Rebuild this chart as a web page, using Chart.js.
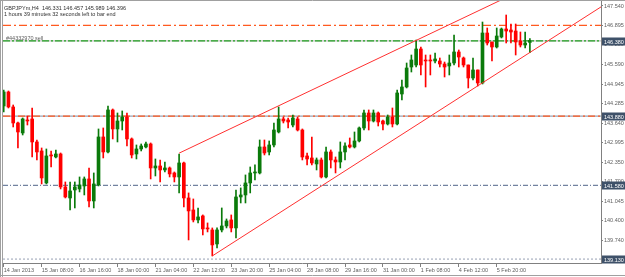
<!DOCTYPE html>
<html>
<head>
<meta charset="utf-8">
<script src="https://cdn.jsdelivr.net/npm/chart.js@4/dist/chart.umd.min.js"></script>
<style>
  html, body { margin: 0; padding: 0; background: #fff; }
  #wrap { position: relative; width: 625px; height: 277px; }
</style>
</head>
<body>
<div id="wrap"><canvas id="chart" width="625" height="277"></canvas></div>
<script>
// GBPJPYm H4 candles (bar 0 = 14 Jan 2013 00:00)
const opens = [
  144.218, 144.683, 144.185, 143.653, 143.321, 143.753, 143.786, 143.022, 142.723, 141.660,
  142.590, 142.523, 142.623, 141.527, 141.161, 141.427, 141.461, 141.560, 141.793, 141.062,
  141.593, 143.188, 142.690, 144.085, 143.454, 143.719, 143.852, 143.122, 142.623, 142.789,
  142.856, 142.955, 142.158, 142.224, 142.092, 142.158, 141.992, 141.859, 142.324, 141.161,
  140.763, 140.431, 140.564, 140.165, 140.098, 139.633, 140.098, 140.231, 140.431, 140.165,
  141.194, 141.261, 141.660, 141.992, 141.992, 142.856, 142.690, 142.922, 143.354, 143.786,
  143.753, 143.586, 143.786, 143.420, 142.557, 142.490, 142.291, 142.424, 141.859, 142.690,
  142.424, 142.357, 142.690, 142.922, 142.856, 143.055, 143.487, 143.985, 143.719, 143.985,
  143.719, 143.620, 143.852, 143.620, 144.616, 144.849, 145.513, 145.580, 146.111, 145.746,
  145.746, 145.713, 145.713, 145.613, 145.547, 145.646, 146.012, 145.812, 145.580, 145.148,
  145.414, 144.982, 146.643, 146.344, 146.178, 146.510, 146.776, 146.742, 146.709, 146.377,
  146.244, 146.331
];
const highs = [
  144.749, 144.716, 144.251, 143.686, 143.819, 143.886, 144.151, 143.088, 142.822, 142.789,
  142.723, 142.756, 142.656, 141.693, 141.693, 141.693, 141.859, 141.859, 142.158, 141.992,
  143.454, 143.487, 144.218, 144.118, 143.985, 144.052, 143.985, 143.155, 142.922, 142.955,
  143.022, 142.989, 142.457, 142.424, 142.357, 142.191, 142.025, 142.623, 142.357, 141.328,
  141.128, 140.829, 140.597, 140.331, 140.165, 140.165, 140.829, 140.464, 140.597, 141.427,
  141.494, 141.926, 142.191, 142.258, 143.088, 143.088, 143.055, 143.653, 144.185, 143.852,
  143.819, 143.919, 143.852, 143.454, 142.656, 143.188, 142.490, 142.490, 142.856, 142.756,
  142.523, 143.022, 142.989, 143.155, 143.354, 143.520, 144.085, 144.085, 144.085, 144.018,
  143.753, 143.919, 144.151, 144.749, 145.081, 145.646, 145.912, 146.410, 146.178, 145.912,
  145.912, 145.978, 145.812, 145.679, 145.912, 146.576, 146.078, 145.845, 145.580, 145.812,
  145.414, 147.008, 146.809, 146.344, 146.809, 146.809, 147.241, 146.942, 146.942, 146.676,
  146.676, 146.457
];
const lows = [
  144.018, 144.151, 143.520, 142.822, 143.254, 143.586, 142.523, 142.424, 141.627, 141.627,
  142.191, 142.490, 141.461, 141.161, 140.763, 140.829, 141.361, 141.261, 140.862, 140.829,
  141.560, 142.490, 142.656, 143.122, 143.022, 143.420, 142.889, 142.490, 142.457, 142.723,
  142.822, 141.793, 141.892, 141.693, 142.025, 141.859, 141.693, 141.328, 140.862, 139.766,
  140.364, 140.331, 139.932, 140.032, 139.235, 139.501, 140.032, 140.165, 140.032, 139.833,
  140.995, 140.995, 141.328, 141.759, 141.959, 142.590, 142.590, 142.856, 143.321, 143.653,
  143.487, 143.520, 143.387, 142.424, 142.258, 142.258, 142.092, 141.826, 141.826, 142.158,
  141.992, 142.158, 142.424, 142.822, 142.822, 143.022, 143.420, 143.420, 143.686, 143.553,
  143.420, 143.586, 143.520, 143.586, 144.417, 144.816, 145.347, 145.513, 145.248, 144.849,
  145.248, 145.646, 145.513, 145.181, 145.248, 145.580, 145.513, 145.513, 144.816, 145.081,
  144.882, 144.948, 146.244, 145.713, 146.144, 146.477, 146.311, 146.311, 145.912, 146.178,
  146.144, 145.989
];
const closes = [
  144.683, 144.185, 143.653, 143.354, 143.786, 143.719, 143.022, 142.690, 141.826, 142.557,
  142.557, 142.623, 141.527, 141.194, 141.394, 141.527, 141.593, 141.793, 141.062, 141.627,
  143.188, 142.690, 144.085, 143.454, 143.719, 143.852, 143.122, 142.590, 142.789, 142.889,
  142.955, 142.158, 142.224, 142.092, 142.158, 141.959, 141.859, 142.324, 141.161, 140.730,
  140.431, 140.530, 140.132, 140.132, 139.600, 140.098, 140.231, 140.397, 140.165, 141.194,
  141.261, 141.660, 141.992, 142.025, 142.856, 142.656, 142.922, 143.420, 143.786, 143.719,
  143.686, 143.819, 143.420, 142.523, 142.457, 142.324, 142.424, 141.859, 142.690, 142.424,
  142.357, 142.690, 142.889, 142.856, 143.055, 143.487, 143.985, 143.719, 143.985, 143.686,
  143.620, 143.852, 143.620, 144.650, 144.849, 145.480, 145.746, 146.111, 145.580, 145.713,
  145.713, 145.779, 145.613, 145.513, 145.646, 146.012, 145.845, 145.580, 145.148, 145.414,
  144.982, 146.643, 146.311, 146.178, 146.543, 146.776, 146.709, 146.676, 146.344, 146.244,
  146.311, 146.396
];

const timeLabels = ['14 Jan 2013', '15 Jan 08:00', '16 Jan 16:00', '18 Jan 00:00', '21 Jan 04:00',
  '22 Jan 12:00', '23 Jan 20:00', '25 Jan 04:00', '28 Jan 08:00', '29 Jan 16:00', '31 Jan 00:00',
  '1 Feb 08:00', '4 Feb 12:00', '5 Feb 20:00'];
const timeLabelBars = [0, 8, 16, 24, 32, 40, 48, 56, 64, 72, 80, 88, 96, 104];
const priceTicks = [147.540, 146.895, 146.250, 145.590, 144.945, 144.285, 143.640,
  142.995, 142.350, 141.700, 141.045, 140.400, 139.740];

// horizontal levels and the channel (bar index, price)
const levelPrices = [146.895, 146.380, 143.880, 141.580, 139.130];
const boxedLevels = [146.380, 143.880, 141.580, 139.130];
const upperChannel = [[37, 142.650], [112, 148.270]];
const lowerChannel = [[44, 139.235], [126, 147.510]];

const symbolName = 'GBPJPYm,H4';
const timeLeft = '1 hours 39 minutes 32 seconds left to bar end';
const orderText = '#44332970 sell';
const orderPrice = 146.380;

const UP = '#0a7a0a';
const DOWN = '#ff0000';
const FONT = '"Liberation Sans", Arial, sans-serif';

// drawn a bit soft, like the blurred lines of the screenshot
const levelLook = [
  { color: '#ff5a20', dash: [8, 3, 2, 3], width: 1.4 },
  { color: '#20a020', dash: [7, 2, 2, 2], width: 1.4, under: '#c4c4c4' },
  { color: '#ff5a20', dash: [7, 3, 2, 3], width: 1.4, under: '#98a2b4' },
  { color: '#7282a0', dash: [5, 2, 1, 2], width: 1.2 },
  { color: '#a8b0c0', dash: [2, 2], width: 1.2 }
];

const mtOverlay = {
  id: 'mtOverlay',
  beforeDraw(chart) {
    const ctx = chart.ctx;
    ctx.save();
    ctx.strokeStyle = '#a0a0a0';
    ctx.lineWidth = 1;
    ctx.beginPath();
    ctx.moveTo(0.5, 0); ctx.lineTo(0.5, 277);
    ctx.moveTo(2.5, 0); ctx.lineTo(2.5, 277);
    ctx.moveTo(0, 0.5); ctx.lineTo(625, 0.5);
    ctx.moveTo(0, 275.5); ctx.lineTo(625, 275.5);
    ctx.stroke();
    ctx.restore();
  },
  beforeDatasetsDraw(chart) {
    const ctx = chart.ctx;
    const area = chart.chartArea;
    const yScale = chart.scales.y;
    ctx.save();
    levelPrices.forEach((p, i) => {
      const look = levelLook[i];
      const y = yScale.getPixelForValue(p);
      ctx.lineWidth = look.width;
      if (look.under) {
        ctx.setLineDash([]);
        ctx.strokeStyle = look.under;
        ctx.beginPath(); ctx.moveTo(area.left, y); ctx.lineTo(area.right, y); ctx.stroke();
      }
      ctx.setLineDash(look.dash);
      ctx.strokeStyle = look.color;
      ctx.beginPath(); ctx.moveTo(area.left, y); ctx.lineTo(area.right, y); ctx.stroke();
    });
    ctx.restore();
  },
  afterDraw(chart) {
    const ctx = chart.ctx;
    const area = chart.chartArea;
    const yScale = chart.scales.y;
    const last = opens.length - 1;
    ctx.save();
    ctx.font = '5.5px ' + FONT;
    ctx.textBaseline = 'alphabetic';
    ctx.fillStyle = '#303030';
    const ohlc = [opens[last], highs[last], lows[last], closes[last]].map(v => v.toFixed(3)).join(' ');
    ctx.fillText(symbolName + '  ' + ohlc, area.left + 1, 9.5);
    ctx.fillText(timeLeft, area.left + 1, 16);
    ctx.fillStyle = '#606060';
    ctx.fillText(orderText, area.left + 3, Math.round(yScale.getPixelForValue(orderPrice)) - 1.5);

    ctx.textBaseline = 'middle';
    boxedLevels.forEach(p => {
      const y = Math.round(yScale.getPixelForValue(p)) + 0.5;
      ctx.fillStyle = '#3e5169';
      ctx.fillRect(area.right + 1, y - 4, 24, 8);
      ctx.fillStyle = '#ffffff';
      ctx.fillText(p.toFixed(3), area.right + 3, y + 0.5);
    });
    ctx.restore();
  }
};

const bodyData = opens.map((o, i) => ({ x: i, y: [o, closes[i]] }));
const wickData = lows.map((l, i) => ({ x: i, y: [l, highs[i]] }));
const candleColors = opens.map((o, i) => closes[i] > o ? UP : DOWN);

Chart.defaults.font.family = FONT;

new Chart(document.getElementById('chart'), {
  type: 'bar',
  data: {
    datasets: [
      {
        label: 'bodies',
        data: bodyData,
        backgroundColor: candleColors,
        barThickness: 3,
        minBarLength: 1,
        grouped: false,
        order: 1
      },
      {
        label: 'wicks',
        data: wickData,
        backgroundColor: candleColors,
        barThickness: 1,
        grouped: false,
        order: 2
      },
      {
        type: 'line',
        label: 'upper',
        data: upperChannel.map(p => ({ x: p[0], y: p[1] })),
        borderColor: '#ff3030',
        borderWidth: 1,
        pointRadius: 0,
        fill: false,
        order: 0
      },
      {
        type: 'line',
        label: 'lower',
        data: lowerChannel.map(p => ({ x: p[0], y: p[1] })),
        borderColor: '#ff3030',
        borderWidth: 1,
        pointRadius: 0,
        fill: false,
        order: 0
      }
    ]
  },
  options: {
    responsive: false,
    animation: false,
    events: [],
    layout: { padding: { left: 3, top: 1, right: 0, bottom: 0 } },
    plugins: { legend: { display: false }, tooltip: { enabled: false } },
    scales: {
      x: {
        type: 'linear',
        offset: false,
        min: -0.15,
        max: 126,
        afterBuildTicks: s => { s.ticks = timeLabelBars.map(v => ({ value: v })); },
        afterFit: s => { s.height = 14; s.paddingLeft = 0; s.paddingRight = 0; },
        ticks: {
          callback: v => timeLabels[timeLabelBars.indexOf(v)],
          align: 'start',
          maxRotation: 0,
          autoSkip: false,
          padding: 0,
          color: '#606060',
          font: { size: 5.5 }
        },
        grid: { offset: false, drawOnChartArea: false, tickLength: 4, color: '#808080' },
        border: { color: '#808080' }
      },
      y: {
        type: 'linear',
        position: 'right',
        min: 139.0,
        max: 147.706,
        afterBuildTicks: s => { s.ticks = priceTicks.map(v => ({ value: v })); },
        afterFit: s => { s.width = 24; s.paddingTop = 0; s.paddingBottom = 0; },
        ticks: {
          callback: v => v.toFixed(3),
          autoSkip: false,
          padding: 1,
          color: '#606060',
          font: { size: 5.5 }
        },
        grid: { drawOnChartArea: false, tickLength: 2, color: '#808080' },
        border: { color: '#808080' }
      }
    }
  },
  plugins: [mtOverlay]
});
</script>
</body>
</html>
